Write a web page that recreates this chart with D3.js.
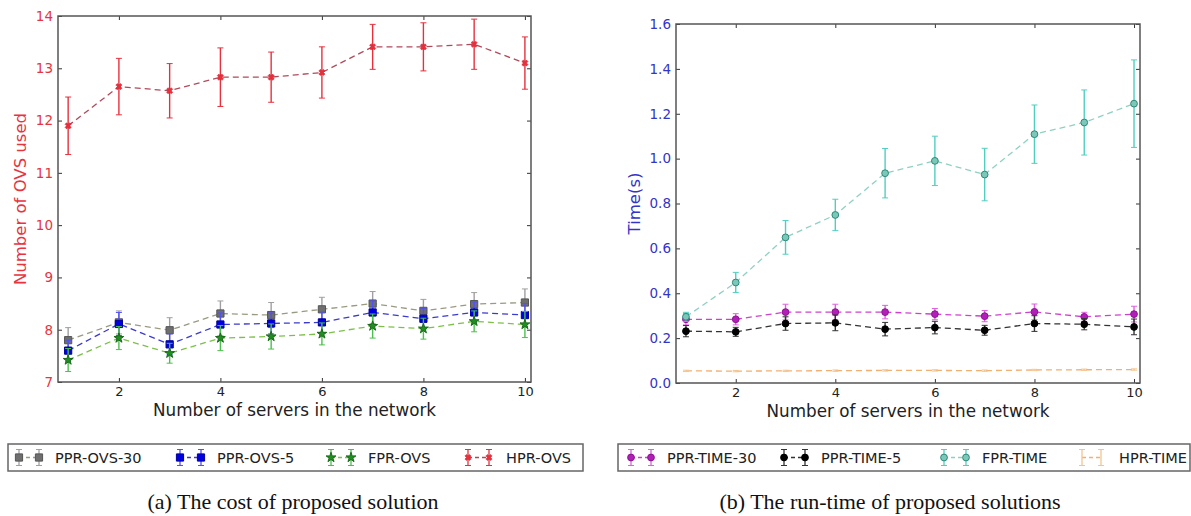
<!DOCTYPE html>
<html>
<head>
<meta charset="utf-8">
<script src="https://cdn.jsdelivr.net/npm/d3@7"></script>
<style>
  body { margin: 0; background: #fff; }
  text { font-family: "DejaVu Sans", sans-serif; }
  .caption { font-family: "Liberation Serif", "Times New Roman", serif; }
</style>
</head>
<body>
<div id="here"></div>
<script>
// data
const servers = [1, 2, 3, 4, 5, 6, 7, 8, 9, 10];
const xTicks = [2, 4, 6, 8, 10];
const ovsTicks = [7, 8, 9, 10, 11, 12, 13, 14];
const timeTicks = [0, 0.2, 0.4, 0.6, 0.8, 1.0, 1.2, 1.4, 1.6];

// (a) cost
const pprOvs30 = [7.80, 8.14, 7.99, 8.31, 8.28, 8.39, 8.50, 8.36, 8.49, 8.52];
const pprOvs30Err = [0.24, 0.22, 0.24, 0.24, 0.24, 0.23, 0.23, 0.22, 0.22, 0.26];
const pprOvs5 = [7.60, 8.11, 7.72, 8.10, 8.12, 8.14, 8.33, 8.21, 8.33, 8.28];
const pprOvs5Err = [0.20, 0.22, 0.20, 0.22, 0.20, 0.20, 0.22, 0.20, 0.20, 0.22];
const fprOvs = [7.42, 7.84, 7.55, 7.84, 7.87, 7.92, 8.07, 8.02, 8.16, 8.10];
const fprOvsErr = [0.22, 0.22, 0.19, 0.24, 0.24, 0.21, 0.23, 0.20, 0.20, 0.25];
const hprOvs = [11.90, 12.65, 12.57, 12.83, 12.83, 12.92, 13.41, 13.41, 13.46, 13.10];
const hprOvsErr = [0.55, 0.54, 0.52, 0.56, 0.48, 0.49, 0.43, 0.46, 0.48, 0.50];

// (b) run-time
const pprTime30 = [0.284, 0.284, 0.316, 0.316, 0.316, 0.307, 0.298, 0.317, 0.295, 0.307];
const pprTime30Err = [0.025, 0.025, 0.035, 0.035, 0.030, 0.025, 0.025, 0.035, 0.020, 0.035];
const pprTime5 = [0.231, 0.228, 0.265, 0.268, 0.240, 0.247, 0.235, 0.265, 0.262, 0.250];
const pprTime5Err = [0.025, 0.020, 0.030, 0.035, 0.030, 0.028, 0.022, 0.035, 0.025, 0.035];
const fprTime = [0.295, 0.448, 0.649, 0.749, 0.935, 0.990, 0.929, 1.109, 1.161, 1.245];
const fprTimeErr = [0.020, 0.045, 0.075, 0.070, 0.110, 0.110, 0.117, 0.130, 0.145, 0.195];
const hprTime = [0.054, 0.053, 0.054, 0.055, 0.056, 0.056, 0.055, 0.058, 0.059, 0.060];
const hprTimeErr = [0.003, 0.003, 0.003, 0.003, 0.003, 0.003, 0.003, 0.003, 0.003, 0.003];

const width = 1191;
const height = 516;

const svg = d3
    .select("#here")
    .append("svg")
    .attr("width", width)
    .attr("height", height);

// symbol paths
const sym = {
    square: d3.symbol().type(d3.symbolSquare).size(52)(),
    star: d3.symbol().type(d3.symbolStar).size(30)(),
    cross: d3.symbol().type(d3.symbolCross).size(24)(),
    circle: d3.symbol().type(d3.symbolCircle).size(36)()
};

const seriesA = [
    { name: "PPR-OVS-30", values: pprOvs30, err: pprOvs30Err, line: "#9a9a80", bar: "#a0a0a0", fill: "#6f6f6f", edge: "#555", shape: "square" },
    { name: "PPR-OVS-5", values: pprOvs5, err: pprOvs5Err, line: "#3a3ad0", bar: "#5050ff", fill: "#0000e0", edge: "#0000a0", shape: "square" },
    { name: "FPR-OVS", values: fprOvs, err: fprOvsErr, line: "#7cc04a", bar: "#4cc04c", fill: "#1f8f1f", edge: "#1a6a1a", shape: "star" },
    { name: "HPR-OVS", values: hprOvs, err: hprOvsErr, line: "#b04a5a", bar: "#e8303c", fill: "#e8303c", edge: "#d02030", shape: "x" }
];

const seriesB = [
    { name: "PPR-TIME-30", values: pprTime30, err: pprTime30Err, line: "#d040d0", bar: "#e060e0", fill: "#b020b8", edge: "#901090", shape: "circle" },
    { name: "PPR-TIME-5", values: pprTime5, err: pprTime5Err, line: "#333", bar: "#333", fill: "#000", edge: "#000", shape: "circle" },
    { name: "FPR-TIME", values: fprTime, err: fprTimeErr, line: "#8fd0c4", bar: "#50cfc0", fill: "#7cc8b8", edge: "#2a8a7a", shape: "circle" },
    { name: "HPR-TIME", values: hprTime, err: hprTimeErr, line: "#f2b070", bar: "#f5c590", fill: "none", edge: "none", shape: "none" }
];

function drawMarker(g, s, x, y) {
    if (s.shape === "none") return;
    let p = g.append("path")
        .attr("fill", s.fill)
        .attr("stroke", s.edge)
        .attr("stroke-width", 1);
    if (s.shape === "x") {
        p.attr("d", sym.cross).attr("transform", `translate(${x},${y}) rotate(45)`)
            .attr("stroke-width", 0.5);
    } else {
        p.attr("d", sym[s.shape]).attr("transform", `translate(${x},${y})`);
    }
}

function drawPanel(opt) {
    const xScale = d3.scaleLinear()
        .domain([0.8, 10.12])
        .range([opt.left, opt.right]);
    const yScale = d3.scaleLinear()
        .domain(opt.yDomain)
        .range([opt.bottom, opt.top]);

    // axes with inward ticks
    const xAxis = svg.append("g")
        .attr("transform", `translate(0, ${opt.bottom})`)
        .call(d3.axisBottom(xScale).tickValues(xTicks).tickSizeInner(-4).tickSizeOuter(0).tickPadding(5));
    svg.append("g")
        .attr("transform", `translate(0, ${opt.top})`)
        .call(d3.axisTop(xScale).tickValues(xTicks).tickSizeInner(-4).tickSizeOuter(0).tickFormat(""));
    const yAxis = svg.append("g")
        .attr("transform", `translate(${opt.left}, 0)`)
        .call(d3.axisLeft(yScale).tickValues(opt.yTicks).tickSizeInner(-4).tickSizeOuter(0).tickPadding(5).tickFormat(opt.fmt));
    svg.append("g")
        .attr("transform", `translate(${opt.right}, 0)`)
        .call(d3.axisRight(yScale).tickValues(opt.yTicks).tickSizeInner(-4).tickSizeOuter(0).tickFormat(""));

    svg.selectAll(".domain").remove();
    svg.selectAll(".tick line").attr("stroke", "#333");
    xAxis.selectAll("text").attr("font-size", 13).attr("fill", "#222")
        .attr("font-family", "DejaVu Sans");
    yAxis.selectAll("text").attr("font-size", 13.5).attr("fill", opt.labelColor)
        .attr("font-family", "DejaVu Sans");

    // series
    opt.series.forEach(function(s) {
        const g = svg.append("g");
        const line = d3.line()
            .x(function(d, i) { return xScale(servers[i]); })
            .y(function(d) { return yScale(d); });

        g.append("path")
            .datum(s.values)
            .attr("d", line)
            .attr("fill", "none")
            .attr("stroke", s.line)
            .attr("stroke-width", 1.3)
            .attr("stroke-dasharray", "6,4");

        s.values.forEach(function(v, i) {
            const x = xScale(servers[i]);
            const y0 = yScale(v - s.err[i]);
            const y1 = yScale(v + s.err[i]);
            g.append("line").attr("x1", x).attr("x2", x).attr("y1", y0).attr("y2", y1)
                .attr("stroke", s.bar).attr("stroke-width", 1.4);
            [y0, y1].forEach(function(yy) {
                g.append("line").attr("x1", x - 3).attr("x2", x + 3).attr("y1", yy).attr("y2", yy)
                    .attr("stroke", s.bar).attr("stroke-width", 1);
            });
            drawMarker(g, s, x, yScale(v));
        });
    });

    // frame
    svg.append("rect")
        .attr("x", opt.left)
        .attr("y", opt.top)
        .attr("width", opt.right - opt.left)
        .attr("height", opt.bottom - opt.top)
        .attr("fill", "none")
        .attr("stroke", "#555")
        .attr("stroke-width", 1.5);

    // axis labels
    svg.append("text")
        .attr("x", (opt.left + opt.right) / 2)
        .attr("y", opt.bottom + 34)
        .attr("text-anchor", "middle")
        .attr("font-size", 16.8)
        .attr("fill", "#222")
        .text("Number of servers in the network");

    svg.append("text")
        .attr("transform", `translate(${opt.yLabelX}, ${(opt.top + opt.bottom) / 2}) rotate(-90)`)
        .attr("text-anchor", "middle")
        .attr("font-size", 16.5)
        .attr("fill", opt.labelColor)
        .text(opt.yLabel);

    // legend
    const lg = svg.append("g");
    lg.append("rect")
        .attr("x", opt.legend.x0)
        .attr("y", 444)
        .attr("width", opt.legend.x1 - opt.legend.x0)
        .attr("height", 27)
        .attr("fill", "#fff")
        .attr("stroke", "#666")
        .attr("stroke-width", 1.5);

    opt.series.forEach(function(s, k) {
        const m = opt.legend.marks[k];
        const yy = 457.5;
        lg.append("line").attr("x1", m[0]).attr("x2", m[1]).attr("y1", yy).attr("y2", yy)
            .attr("stroke", s.line).attr("stroke-width", 1.3).attr("stroke-dasharray", "4,3");
        m.slice(0, 2).forEach(function(x) {
            lg.append("line").attr("x1", x).attr("x2", x).attr("y1", yy - 8).attr("y2", yy + 8)
                .attr("stroke", s.bar).attr("stroke-width", 1.3);
            [yy - 8, yy + 8].forEach(function(cy) {
                lg.append("line").attr("x1", x - 3).attr("x2", x + 3).attr("y1", cy).attr("y2", cy)
                    .attr("stroke", s.bar).attr("stroke-width", 1);
            });
            drawMarker(lg, s, x, yy);
        });
        lg.append("text")
            .attr("x", m[2])
            .attr("y", 463)
            .attr("font-size", 14.5)
            .attr("fill", "#222")
            .text(s.name);
    });

    // caption
    svg.append("text")
        .attr("class", "caption")
        .attr("x", opt.captionX)
        .attr("y", 509)
        .attr("text-anchor", "middle")
        .attr("font-size", 22)
        .attr("fill", "#111")
        .text(opt.caption);
}

drawPanel({
    left: 58, right: 531, top: 16, bottom: 382,
    yDomain: [7, 14], yTicks: ovsTicks, fmt: d3.format("d"),
    labelColor: "#e8343f", yLabel: "Number of OVS used", yLabelX: 26,
    series: seriesA,
    legend: { x0: 8, x1: 583, marks: [[19, 39, 55], [180, 201, 217], [331, 351, 368], [468, 489, 506]] },
    captionX: 293, caption: "(a) The cost of proposed solution"
});

drawPanel({
    left: 676, right: 1140, top: 24, bottom: 383,
    yDomain: [0, 1.6], yTicks: timeTicks, fmt: d3.format(".1f"),
    labelColor: "#3434c8", yLabel: "Time(s)", yLabelX: 640,
    series: seriesB,
    legend: { x0: 618, x1: 1190, marks: [[631, 651, 667], [784, 805, 821], [944, 966, 982], [1082, 1101, 1119]] },
    captionX: 890, caption: "(b) The run-time of proposed solutions"
});
</script>
</body>
</html>
